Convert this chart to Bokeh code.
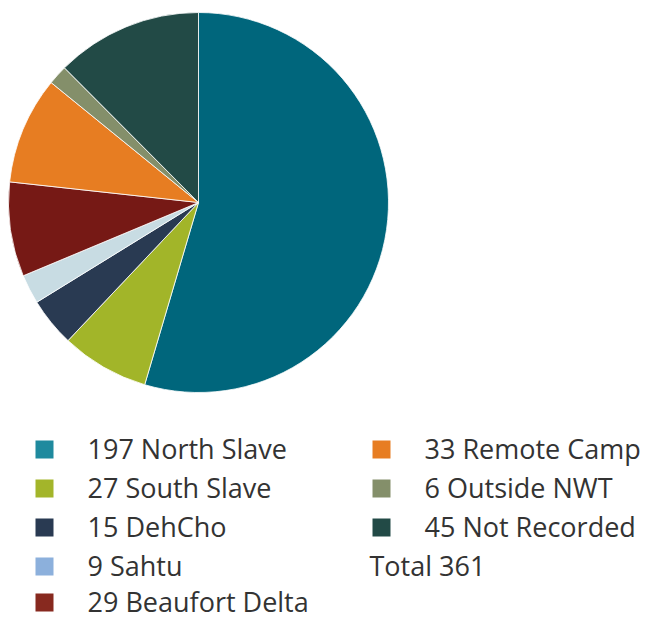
import numpy as np
from bokeh.plotting import figure
from bokeh.models import Range1d
from bokeh.core.properties import value
from bokeh.embed import file_html
from bokeh.resources import INLINE

regions = ["North Slave", "South Slave", "DehCho", "Sahtu", "Beaufort Delta",
           "Remote Camp", "Outside NWT", "Not Recorded"]
counts = [197, 27, 15, 9, 29, 33, 6, 45]
pie_colors = ["#00667C", "#A2B529", "#293A52", "#C8DCE3", "#761915",
              "#E77D22", "#848F6A", "#224A46"]
legend_colors = ["#1F8A9E", "#A3B52A", "#293A52", "#8CB0DC", "#87291F",
                 "#E77D22", "#848F6A", "#224A46"]
total_label = "Total 361"

W, H = 647, 622
p = figure(width=W, height=H, output_backend="svg", toolbar_location=None,
           x_range=Range1d(0, W), y_range=Range1d(0, H), min_border=0,
           outline_line_color=None)
p.axis.visible = False
p.grid.visible = False
p.background_fill_color = "white"

vals = np.array(counts, dtype=float)
frac = np.cumsum(vals) / vals.sum()
starts = np.pi / 2 - np.concatenate([[0], frac[:-1]]) * 2 * np.pi
ends = np.pi / 2 - frac * 2 * np.pi
p.wedge(x=[198] * len(counts), y=[420] * len(counts), radius=190,
        start_angle=list(starts), end_angle=list(ends), direction="clock",
        fill_color=pie_colors, line_color="white", line_width=0.8)

labels = [f"{c} {r}" for c, r in zip(counts, regions)]
row_y = [173, 134, 95, 56, 20]
sq_x, txt_x, sq_y = [], [], []
for i in range(len(labels)):
    if i < 5:
        sq_x.append(44); txt_x.append(87); sq_y.append(row_y[i])
    else:
        sq_x.append(381); txt_x.append(424); sq_y.append(row_y[i - 5])
p.rect(x=sq_x, y=sq_y, width=18, height=18, fill_color=legend_colors, line_color=None)
p.text(x=txt_x, y=[y + 1 for y in sq_y], text=labels, text_font=value("Open Sans"),
       text_font_size="27px", text_color="#333333", text_baseline="middle", text_align="left")
p.text(x=[369], y=[row_y[3] + 1], text=[total_label], text_font=value("Open Sans"),
       text_font_size="27px", text_color="#333333", text_baseline="middle", text_align="left")

open("out.html", "w").write(file_html(p, INLINE))
